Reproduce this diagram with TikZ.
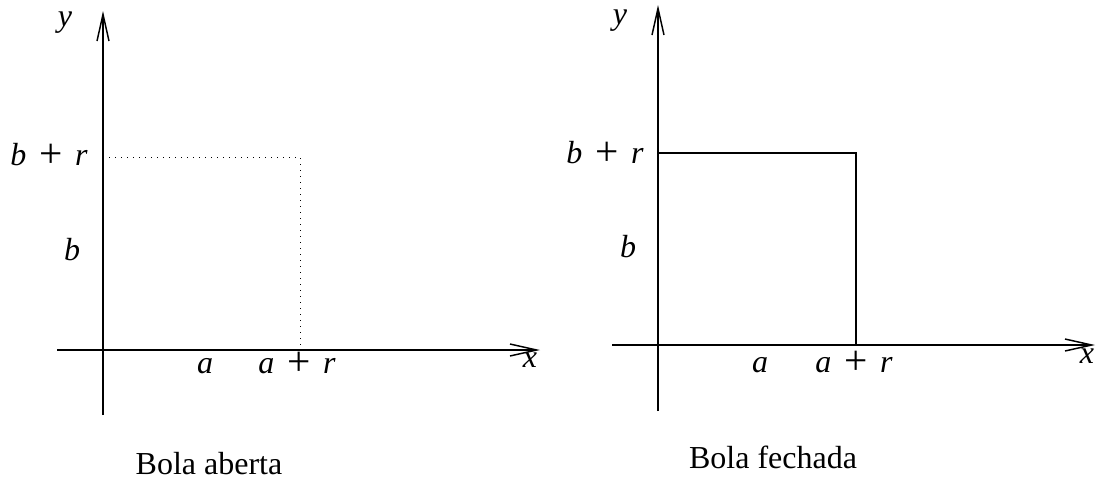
\documentclass[tikz,border=0pt]{standalone}
\usepackage{fontspec}
\setmainfont{Liberation Serif}
\usetikzlibrary{arrows.meta}

\newcommand{\somma}{\hspace{.4em}\raisebox{-2pt}{\fontsize{31}{31}\selectfont\upshape +}\hspace{.4em}}

\begin{document}
\begin{tikzpicture}[x=0.75pt, y=-0.75pt,
    % Estilo dos eixos
    axis/.style={
        line width=0.8pt,
        -{Straight Barb[length=20pt, width=9pt, line width=1.1pt]}
    },
    % Estilo das bordas da bola
    opened/.style={line width=0.7pt, dash pattern=on 1pt off 3.5pt},
    closed/.style={line width=0.8pt},
    % Estilos para os textos
    var/.style={font=\fontsize{24}{28}\selectfont\itshape, inner sep=0pt, anchor=base},
    caption/.style={font=\fontsize{24}{28}\selectfont, inner sep=0pt, anchor=base}
]
\useasboundingbox (0,0) rectangle (1098,479);

% BOLA ABERTA
\coordinate (xstartA) at (57,350);
\coordinate (xendA) at (540,350);
\coordinate (ystartA) at (103,415);
\coordinate (yendA) at (103,11);
\coordinate (cornerA) at (300,157);
\coordinate (topA) at (103,157);
\coordinate (footA) at (300,350);

\draw[axis] (xstartA) -- (xendA);
\draw[axis] (ystartA) -- (yendA);
\draw[opened] (topA) -- (cornerA) -- (footA);

\node[var] (ylabA) at (65,26) {y};
\node[var] (xlabA) at (530,367) {x};
\node[var] (brA) at (49,165) {b\somma r};
\node[var] (bA) at (72,260) {b};
\node[var] (aA) at (205,373) {a};
\node[var] (arA) at (297,373) {a\somma r};
\node[caption] (capA) at (209,474) {Bola aberta};

% BOLA FECHADA
\coordinate (xstartF) at (612,345);
\coordinate (xendF) at (1095,345);
\coordinate (ystartF) at (658,411);
\coordinate (yendF) at (658,5);
\coordinate (cornerF) at (856,153);
\coordinate (topF) at (658,153);
\coordinate (footF) at (856,345);

\draw[axis] (xstartF) -- (xendF);
\draw[axis] (ystartF) -- (yendF);
\draw[closed] (topF) -- (cornerF) -- (footF);

\node[var] (ylabF) at (620,24) {y};
\node[var] (xlabF) at (1087,363) {x};
\node[var] (brF) at (605,163) {b\somma r};
\node[var] (bF) at (628,257) {b};
\node[var] (aF) at (760,372) {a};
\node[var] (arF) at (854,372) {a\somma r};
\node[caption] (capF) at (773,468) {Bola fechada};

\end{tikzpicture}
\end{document}
